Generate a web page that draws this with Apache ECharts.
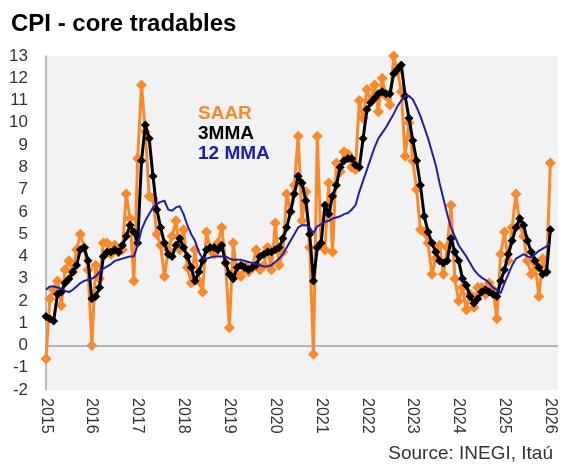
<!DOCTYPE html>
<html>
<head>
<meta charset="utf-8">
<title>CPI - core tradables</title>
<script src="https://cdn.jsdelivr.net/npm/echarts@6/dist/echarts.min.js"></script>
<style>
  html, body { margin: 0; padding: 0; background: #fff; }
  #chart { width: 561px; height: 465px; }
</style>
</head>
<body>
<div id="chart"></div>
<script>
// one axis label per January
const years = [2015, 2016, 2017, 2018, 2019, 2020, 2021, 2022, 2023, 2024, 2025, 2026];

// monthly readings, Jan 2015 .. Jan 2026 (% )
const saar = [
  -0.6, 2.1, 2.5, 2.9, 1.8, 3.4, 3.8, 3.3, 4.3, 5.0, 4.4, 3.4,
  0.0, 3.6, 3.0, 4.6, 4.6, 4.1, 4.5, 4.2, 4.3, 6.8, 5.7, 2.9,
  8.4, 11.7, 9.6, 6.7, 6.6, 5.0, 4.5, 3.1, 4.3, 4.9, 5.6, 4.3,
  5.2, 3.5, 2.8, 4.3, 2.9, 2.4, 5.1, 4.3, 4.1, 4.6, 5.3, 3.7,
  0.8, 4.6, 3.2, 3.1, 3.6, 3.3, 3.5, 4.3, 3.4, 3.6, 4.4, 3.4,
  5.5, 3.6, 4.2, 6.8, 6.0, 7.2, 9.4, 5.6, 6.9, 4.4, -0.4, 9.4,
  4.5, 4.3, 7.3, 4.2, 8.2, 7.8, 8.7, 8.6, 8.0, 7.9, 11.0, 10.2,
  11.5, 11.0, 11.7, 10.5, 12.0, 11.2, 10.8, 13.0, 12.3, 11.4, 8.5, 10.0,
  8.3, 7.0, 5.2, 5.1, 4.6, 3.2, 3.9, 4.5, 3.2, 4.4, 6.3, 3.0,
  2.0, 2.6, 1.6, 2.3, 1.7, 2.6, 2.6, 2.3, 2.8, 2.5, 1.2, 4.1,
  5.1, 3.8, 5.3, 6.8, 5.4, 4.9, 3.8, 3.2, 3.7, 2.2, 3.9, 3.3,
  8.2
];
const mma3 = [
  1.3, 1.2, 1.1, 2.3, 2.4, 2.8, 3.0, 3.3, 3.6, 4.3, 4.4, 3.8,
  2.1, 2.2, 2.6, 4.0, 4.2, 4.2, 4.3, 4.2, 4.5, 4.9, 5.4, 5.1,
  4.6, 8.3, 9.9, 9.3, 7.6, 6.1, 5.3, 4.6, 4.1, 4.0, 4.5, 4.8,
  4.4, 4.0, 3.5, 2.9, 3.3, 3.8, 4.3, 4.4, 4.4, 4.3, 4.5, 3.7,
  3.2, 3.0, 3.5, 3.6, 3.5, 3.4, 3.5, 3.6, 4.0, 4.1, 4.2, 4.2,
  4.3, 4.4, 4.8, 5.3, 6.0, 6.8, 7.6, 7.3, 6.5, 5.0, 2.9, 4.4,
  4.6, 6.3, 5.9, 6.7, 7.2, 8.0, 8.3, 8.4, 8.4, 8.1, 8.0, 9.3,
  10.6, 10.9, 11.1, 11.3, 11.4, 11.3, 11.3, 12.2, 12.4, 12.6, 11.2, 10.2,
  9.2, 8.3, 7.2, 5.8, 5.1, 4.6, 4.2, 3.8, 3.7, 3.8, 4.8, 4.2,
  3.8, 3.0, 2.7, 2.2, 1.9, 2.1, 2.4, 2.5, 2.4, 2.3, 2.2, 2.9,
  3.4, 4.1, 4.7, 5.3, 5.7, 5.4, 4.7, 4.2, 3.8, 3.5, 3.2, 3.3,
  5.2
];
const mma12 = [
  2.5, 2.65, 2.65, 2.6, 2.55, 2.45, 2.4, 2.5, 2.65, 2.8, 2.9, 2.95,
  3.0, 3.1, 3.3, 3.45, 3.55, 3.65, 3.8, 3.85, 3.9, 3.95, 4.0, 4.0,
  4.5, 5.2, 5.6, 5.9, 6.2, 6.35, 6.45, 6.5, 6.1, 6.05, 6.2, 6.25,
  5.9, 5.4, 5.0, 4.7, 4.2, 3.9, 3.9, 3.95, 4.0, 4.0, 4.0, 4.0,
  3.9, 3.85, 3.85, 3.85, 3.8, 3.75, 3.7, 3.65, 3.6, 3.55, 3.55, 3.6,
  3.75, 3.9, 4.1, 4.4, 4.7, 5.0, 5.3, 5.4, 5.4, 5.3, 5.05, 5.35,
  5.45, 5.55, 5.6, 5.7, 5.75, 5.8, 5.9, 5.95, 6.1, 6.3, 6.9, 7.4,
  7.9, 8.4, 8.9, 9.3, 9.55, 9.8, 10.1, 10.4, 10.75, 11.0, 11.2, 11.2,
  11.05, 10.7, 10.3, 9.8, 9.3, 8.7, 8.1, 7.3, 6.6, 5.9, 5.3, 4.9,
  4.5, 4.25, 4.0, 3.7, 3.4, 3.2, 3.05, 2.95, 2.8, 2.6, 2.5, 2.35,
  2.8, 3.2, 3.6, 3.9, 4.0, 4.1, 4.0, 3.95, 4.1, 4.25, 4.35, 4.45,
  4.6
];

const ORANGE = "#f98a2c";
const BLUE = "#2020a6";
const FONT = "'Liberation Sans', Arial, sans-serif";

// month categories, with two spare months after Jan 2026 so the axis runs a bit past the last point
const months = [];
years.forEach((y) => {
  for (let m = 1; m <= 12; m++) months.push(y + "-" + String(m).padStart(2, "0"));
});
months.length = saar.length + 2;

const chart = echarts.init(document.getElementById("chart"));

const option = {
  animation: false,
  backgroundColor: "#fff",
  title: {
    text: "CPI - core tradables",
    left: 6,
    top: 7,
    textStyle: { fontSize: 24, fontWeight: "bold", color: "#000", fontFamily: FONT },
  },
  grid: {
    left: 46,
    right: 3,
    top: 56,
    bottom: 75,
    show: true,
    backgroundColor: "#f2f2f2",
    borderWidth: 0,
  },
  xAxis: {
    type: "category",
    data: months,
    boundaryGap: false,
    axisLine: { show: false },
    axisTick: { show: false },
    splitLine: { show: false },
    axisLabel: {
      interval: (idx) => idx % 12 === 0,
      rotate: -90,
      margin: 8,
      fontSize: 16,
      color: "#333",
      fontFamily: FONT,
      formatter: (val) => val.slice(0, 4),
    },
  },
  yAxis: {
    type: "value",
    min: -2,
    max: 13,
    interval: 1,
    splitLine: { show: false },
    axisTick: { show: false },
    axisLine: { show: true, lineStyle: { color: "#a6a6a6", width: 1.5 } },
    axisLabel: { fontSize: 17, color: "#333", margin: 18, fontFamily: FONT },
  },
  series: [
    {
      name: "SAAR",
      type: "line",
      data: saar,
      z: 2,
      symbol: "diamond",
      symbolSize: 11,
      showAllSymbol: true,
      lineStyle: { color: ORANGE, width: 3 },
      itemStyle: { color: ORANGE },
      markLine: {
        silent: true,
        symbol: "none",
        label: { show: false },
        lineStyle: { color: "#a0a0a0", width: 1.5, type: "solid" },
        data: [{ yAxis: 0 }],
      },
    },
    {
      name: "3MMA",
      type: "line",
      data: mma3,
      z: 3,
      symbol: "diamond",
      symbolSize: 9,
      showAllSymbol: true,
      lineStyle: { color: "#000", width: 3 },
      itemStyle: { color: "#000" },
    },
    {
      name: "12MMA",
      type: "line",
      data: mma12,
      z: 4,
      showSymbol: false,
      symbol: "none",
      lineStyle: { color: BLUE, width: 2 },
    },
  ],
  graphic: [
    {
      type: "text", left: 198, top: 104,
      style: { text: "SAAR", fill: ORANGE, fontSize: 19, fontWeight: "bold", fontFamily: FONT },
    },
    {
      type: "text", left: 198, top: 124,
      style: { text: "3MMA", fill: "#000", fontSize: 19, fontWeight: "bold", fontFamily: FONT },
    },
    {
      type: "text", left: 198, top: 144,
      style: { text: "12 MMA", fill: BLUE, fontSize: 19, fontWeight: "bold", fontFamily: FONT },
    },
    {
      type: "text", right: 8, bottom: 2,
      style: { text: "Source: INEGI, Itaú", fill: "#333", fontSize: 19, fontFamily: FONT },
    },
  ],
};

chart.setOption(option);
</script>
</body>
</html>
